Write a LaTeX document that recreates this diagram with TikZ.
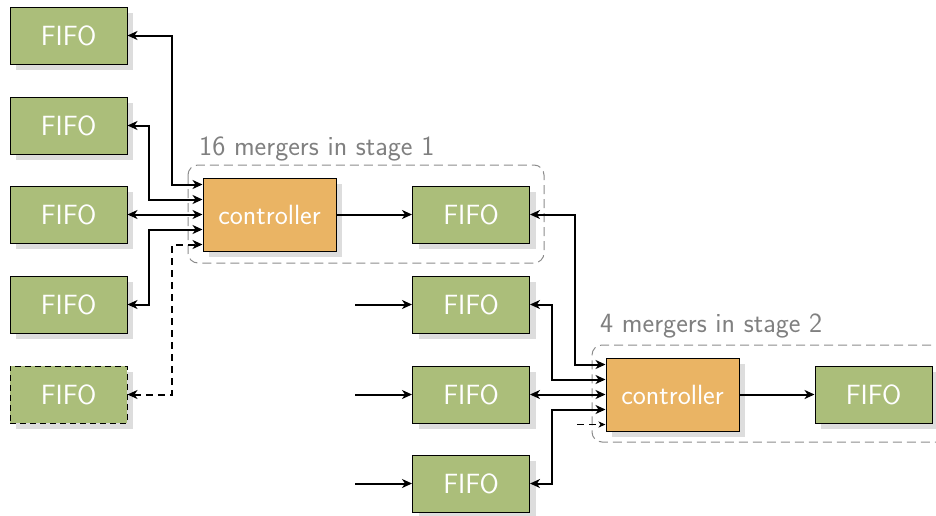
\documentclass[tikz,border=0pt]{standalone}
\usetikzlibrary{arrows.meta,shadows}
\definecolor{fifogreen}{RGB}{171,190,122}
\definecolor{ctrlorange}{RGB}{234,180,100}
\definecolor{shadowgray}{RGB}{221,221,221}
\definecolor{groupgray}{RGB}{140,140,140}
\definecolor{labelgray}{RGB}{128,128,128}
\begin{document}
\begin{tikzpicture}[x=1pt,y=-1pt,
  every node/.style={font=\sffamily\fontsize{27.8}{30}\selectfont},
  boxshadow/.style={drop shadow={shadow xshift=6pt,shadow yshift=-6pt,fill=shadowgray,opacity=1}},
  fifo/.style={draw=black,line width=1pt,fill=fifogreen,text=white,minimum width=117pt,minimum height=57pt,inner sep=0pt,boxshadow},
  ctrl/.style={draw=black,line width=1pt,fill=ctrlorange,text=white,minimum width=133pt,minimum height=73pt,inner sep=0pt,boxshadow},
  group/.style={draw=groupgray,line width=1pt,dash pattern=on 9pt off 5pt},
  grouplabel/.style={text=labelgray,anchor=base west,inner sep=0pt},
  conn/.style={line width=2pt,-{Stealth[length=10pt,width=9pt,inset=3pt]}},
  biconn/.style={line width=2pt,{Stealth[length=10pt,width=9pt,inset=3pt]}-{Stealth[length=10pt,width=9pt,inset=3pt]}},
  dconn/.style={biconn,dash pattern=on 7pt off 5pt},
]
\useasboundingbox (0,0) rectangle (936,515);

% stage groups
\draw[group,rounded corners=10pt] (188,165) rectangle (544,263);
\draw[group] (945,345) -- (602,345) [rounded corners=10pt] -- (592,345) -- (592,442) -- (945,442);
\node[grouplabel] (lab1) at (199,155) {16 mergers in stage 1};
\node[grouplabel] (lab2) at (600,332) {4 mergers in stage 2};

% left column
\node[fifo] (f1) at (68.5,35.5) {FIFO};
\node[fifo] (f2) at (68.5,125.5) {FIFO};
\node[fifo] (f3) at (68.5,214.5) {FIFO};
\node[fifo] (f4) at (68.5,304.5) {FIFO};
\node[fifo,dashed,dash pattern=on 6pt off 4pt] (f5) at (68.5,394.5) {FIFO};

% controller 1
\node[ctrl] (c1) at (269.5,214.5) {controller};
\node[fifo] (o1) at (471,214.5) {FIFO};

% middle column
\node[fifo] (m1) at (471,304.5) {FIFO};
\node[fifo] (m2) at (471,394.5) {FIFO};
\node[fifo] (m3) at (471,483.5) {FIFO};
\coordinate (i1) at (355,304.5);
\coordinate (i2) at (355,394.5);
\coordinate (i3) at (355,483.5);

% controller 2
\node[ctrl] (c2) at (672.5,394.5) {controller};
\node[fifo] (o2) at (873.5,394.5) {FIFO};

% connectors stage 1
\draw[biconn] (f1.east) -- (172,35.5) |- ([yshift=30pt]c1.west);
\draw[biconn] (f2.east) -- (149,125.5) |- ([yshift=15pt]c1.west);
\draw[biconn] (f3.east) -- (c1.west);
\draw[biconn] (f4.east) -- (149,304.5) |- ([yshift=-15pt]c1.west);
\draw[dconn] (f5.east) -- (172,394.5) |- ([yshift=-30pt]c1.west);
\draw[conn] (c1.east) -- (o1.west);

% inputs middle column
\draw[conn] (i1) -- (m1.west);
\draw[conn] (i2) -- (m2.west);
\draw[conn] (i3) -- (m3.west);

% connectors stage 2
\draw[biconn] (o1.east) -- (575,214.5) |- ([yshift=30pt]c2.west);
\draw[biconn] (m1.east) -- (552,304.5) |- ([yshift=15pt]c2.west);
\draw[biconn] (m2.east) -- (c2.west);
\draw[biconn] (m3.east) -- (552,483.5) |- ([yshift=-15pt]c2.west);
\coordinate (d2) at (577,424.5);
\draw[line width=1pt,dash pattern=on 7pt off 5pt,-{Stealth[length=7pt,width=6pt,inset=2pt]}] (d2) -- ([yshift=-30pt]c2.west);
\draw[conn] (c2.east) -- (o2.west);
\end{tikzpicture}
\end{document}
